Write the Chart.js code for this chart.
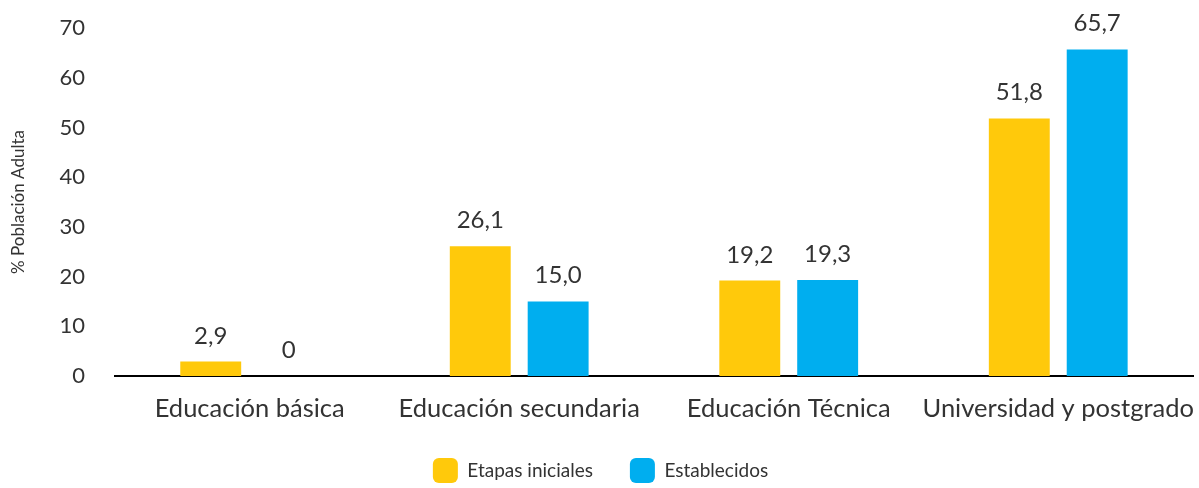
<!DOCTYPE html>
<html>
<head>
<meta charset="utf-8">
<script src="https://cdn.jsdelivr.net/npm/chart.js@4/dist/chart.umd.min.js"></script>
<style>
  html, body { margin: 0; padding: 0; background: #fff; }
  #wrap { width: 1199px; height: 488px; }
</style>
</head>
<body>
<div id="wrap"><canvas id="chart" width="1199" height="488"></canvas></div>
<script>
const categories = ['Educación básica', 'Educación secundaria', 'Educación Técnica', 'Universidad y postgrado'];
const etapasIniciales = [2.9, 26.1, 19.2, 51.8];
const establecidos = [0, 15.0, 19.3, 65.7];
const yTicks = [0, 10, 20, 30, 40, 50, 60, 70];

const FONT = 'Lato, "Noto Sans", sans-serif';
const TEXT = '#333333';

// value labels above each bar, with decimal comma
const valueLabels = {
    id: 'valueLabels',
    afterDatasetsDraw(chart) {
        const ctx = chart.ctx;
        ctx.save();
        ctx.font = '24px ' + FONT;
        ctx.fillStyle = TEXT;
        ctx.textAlign = 'center';
        ctx.textBaseline = 'alphabetic';
        chart.data.datasets.forEach((ds, i) => {
            const meta = chart.getDatasetMeta(i);
            meta.data.forEach((bar, j) => {
                const v = ds.data[j];
                const txt = v === 0 ? '0' : v.toFixed(1).replace('.', ',');
                ctx.fillText(txt, bar.x, bar.y - 18);
            });
        });
        ctx.restore();
    }
};

new Chart(document.getElementById('chart'), {
    type: 'bar',
    data: {
        labels: categories,
        datasets: [
            {
                label: 'Etapas iniciales',
                data: etapasIniciales,
                backgroundColor: '#FFC90B'
            },
            {
                label: 'Establecidos',
                data: establecidos,
                backgroundColor: '#00AEEF'
            }
        ]
    },
    options: {
        responsive: false,
        animation: false,
        layout: { padding: { top: 28, right: 6, left: 8, bottom: -5 } },
        datasets: {
            bar: { categoryPercentage: 0.578, barPercentage: 0.782 }
        },
        plugins: {
            legend: {
                position: 'bottom',
                labels: {
                    boxWidth: 25,
                    boxHeight: 25,
                    useBorderRadius: true,
                    borderRadius: 6,
                    padding: 37,
                    color: TEXT,
                    font: { size: 19, family: FONT }
                }
            },
            tooltip: { enabled: false }
        },
        scales: {
            x: {
                grid: { display: false, drawTicks: false },
                border: { display: true, color: '#000', width: 2 },
                ticks: {
                    color: TEXT,
                    padding: 17,
                    autoSkip: false,
                    maxRotation: 0,
                    minRotation: 0,
                    font: { size: 25.5, family: FONT }
                },
                afterFit: (scale) => {
                    scale.height = 45;
                    scale.paddingLeft = 0;
                    scale.paddingRight = 0;
                }
            },
            y: {
                min: 0,
                max: 70,
                afterBuildTicks: (axis) => { axis.ticks = yTicks.map(v => ({ value: v })); },
                grid: { display: false, drawTicks: false },
                border: { display: false },
                ticks: {
                    color: TEXT,
                    padding: 30,
                    font: { size: 22, family: FONT }
                },
                title: {
                    display: true,
                    text: '% Población Adulta',
                    color: TEXT,
                    padding: { top: 0, bottom: 1 },
                    font: { size: 17, family: FONT }
                },
                afterFit: (scale) => { scale.paddingTop = 0; scale.paddingBottom = 0; }
            }
        }
    },
    plugins: [valueLabels]
});
</script>
</body>
</html>
